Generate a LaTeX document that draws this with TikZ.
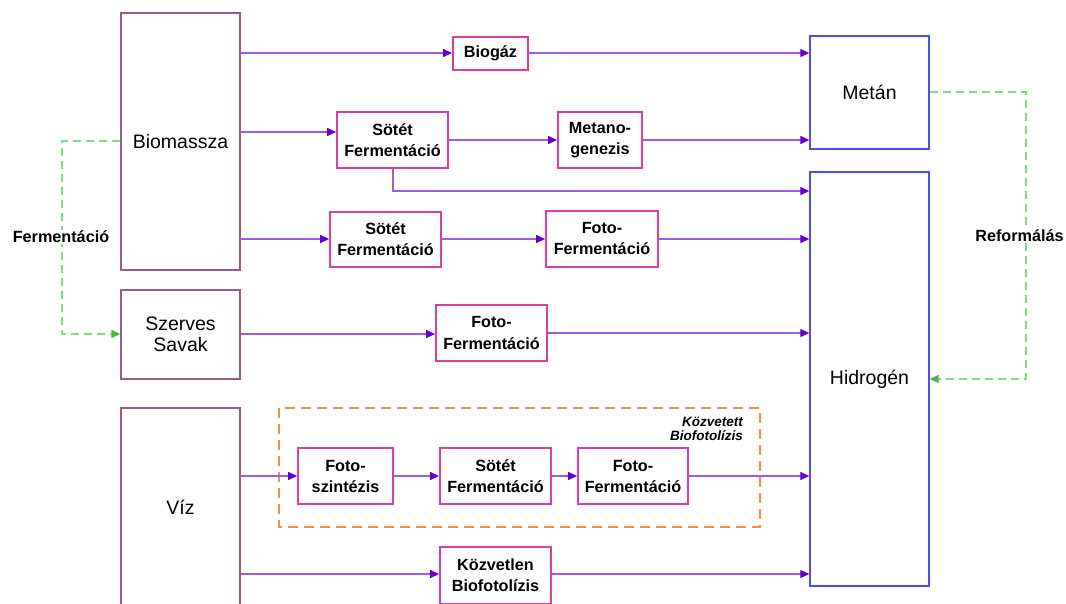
\documentclass[tikz,border=0pt]{standalone}
\usepackage{fontspec}
\setmainfont{Liberation Sans}
\usetikzlibrary{arrows.meta}
\definecolor{inbox}{HTML}{9E5A82}
\definecolor{procbox}{HTML}{E03CA0}
\definecolor{prodbox}{HTML}{4B4BFF}
\definecolor{arrline}{HTML}{9A5CE6}
\definecolor{arrtip}{HTML}{6400D2}
\definecolor{grline}{HTML}{80E080}
\definecolor{grtip}{HTML}{40C040}
\definecolor{orline}{HTML}{FF8C3A}
\tikzset{
  inputbox/.style={draw=inbox, line width=1.3pt, fill=white, inner sep=0pt, align=center,
    font=\fontsize{19.5}{21.5}\selectfont},
  prodnode/.style={draw=prodbox, line width=1.4pt, fill=white, inner sep=0pt, align=center,
    font=\fontsize{19.5}{21.5}\selectfont},
  procnode/.style={draw=procbox, line width=1.8pt, fill=white, inner sep=0pt, align=center,
    font=\fontsize{16.2}{21}\selectfont\bfseries},
  arr/.style={draw=arrline, line width=1.3pt, -{Triangle[length=9pt,width=8pt,color=arrtip]}},
  grarr/.style={draw=grline, line width=1.4pt, dash pattern=on 8pt off 5pt, -{Triangle[length=9pt,width=8pt,color=grtip]}},
  sidelab/.style={fill=white, inner sep=1pt, font=\fontsize{16.2}{21}\selectfont\bfseries},
}
\begin{document}
\begin{tikzpicture}[x=1pt,y=-1pt]
\path[use as bounding box] (0,0) rectangle (1066,603);
\clip (0,0) rectangle (1066,603);

% input boxes
\node[inputbox, minimum width=119pt, minimum height=257pt] (bio) at (180.5,141.5) {Biomassza};
\node[inputbox, minimum width=119pt, minimum height=89pt] (szerves) at (180.5,334.5) {Szerves\\Savak};
\node[inputbox, minimum width=119pt, minimum height=198pt] (viz) at (180.5,507) {Víz};

% product boxes
\node[prodnode, minimum width=119pt, minimum height=113pt] (metan) at (869.5,92.5) {Metán};
\node[prodnode, minimum width=119pt, minimum height=414pt] (hidrogen) at (869.5,379) {Hidrogén};

% indirect biophotolysis frame
\draw[orline, line width=2pt, dash pattern=on 10pt off 6pt] (279,408) rectangle (760,527);
\node[anchor=east, align=right, inner sep=0pt, font=\fontsize{13.5}{14}\selectfont\bfseries\itshape] (kozvetett) at (743,429) {Közvetett\\Biofotolízis};

% process boxes
\node[procnode, minimum width=75pt, minimum height=33pt] (biogaz) at (490.5,53.5) {Biogáz};
\node[procnode, minimum width=111pt, minimum height=56pt] (sf1) at (392.5,140) {Sötét\\Fermentáció};
\node[procnode, minimum width=84pt, minimum height=56pt] (metano) at (600,140) {Metano-\\genezis};
\node[procnode, minimum width=111pt, minimum height=55pt] (sf2) at (385.5,239.5) {Sötét\\Fermentáció};
\node[procnode, minimum width=112pt, minimum height=56pt] (ff1) at (602,239) {Foto-\\Fermentáció};
\node[procnode, minimum width=111pt, minimum height=56pt] (ff2) at (491.5,333) {Foto-\\Fermentáció};
\node[procnode, minimum width=95pt, minimum height=56pt] (fsz) at (345.5,476) {Foto-\\szintézis};
\node[procnode, minimum width=111pt, minimum height=56pt] (sf3) at (495.5,476) {Sötét\\Fermentáció};
\node[procnode, minimum width=110pt, minimum height=56pt] (ff3) at (633,476) {Foto-\\Fermentáció};
\node[procnode, minimum width=111pt, minimum height=57pt] (kozv) at (495.5,575.5) {Közvetlen\\Biofotolízis};

% connectors
\draw[arr] (bio.east |- 0,53) -- (biogaz.west |- 0,53);
\draw[arr] (biogaz.east |- 0,53) -- (metan.west |- 0,53);
\draw[arr] (bio.east |- 0,132) -- (sf1.west |- 0,132);
\draw[arr] (sf1.east |- 0,140) -- (metano.west |- 0,140);
\draw[arr] (metano.east |- 0,140) -- (metan.west |- 0,140);
\draw[arr] (sf1.south -| 393,0) -- (393,191) -- (hidrogen.west |- 0,191);
\draw[arr] (bio.east |- 0,239) -- (sf2.west |- 0,239);
\draw[arr] (sf2.east |- 0,239) -- (ff1.west |- 0,239);
\draw[arr] (ff1.east |- 0,239) -- (hidrogen.west |- 0,239);
\draw[arr] (szerves.east |- 0,334) -- (ff2.west |- 0,334);
\draw[arr] (ff2.east |- 0,333) -- (hidrogen.west |- 0,333);
\draw[arr] (viz.east |- 0,476) -- (fsz.west |- 0,476);
\draw[arr] (fsz.east |- 0,476) -- (sf3.west |- 0,476);
\draw[arr] (sf3.east |- 0,476) -- (ff3.west |- 0,476);
\draw[arr] (ff3.east |- 0,476) -- (hidrogen.west |- 0,476);
\draw[arr] (viz.east |- 0,574) -- (kozv.west |- 0,574);
\draw[arr] (kozv.east |- 0,574) -- (hidrogen.west |- 0,574);

% green dashed conversions
\draw[grarr] (bio.west |- 0,141) -- (62,141) -- (62,334) -- (szerves.west |- 0,334);
\draw[grarr] (metan.east |- 0,92) -- (1026,92) -- (1026,379) -- (hidrogen.east |- 0,379);
\node[sidelab] (fermlab) at (61,237) {Fermentáció};
\node[sidelab] (reflab) at (1019.5,236) {Reformálás};
\end{tikzpicture}
\end{document}
